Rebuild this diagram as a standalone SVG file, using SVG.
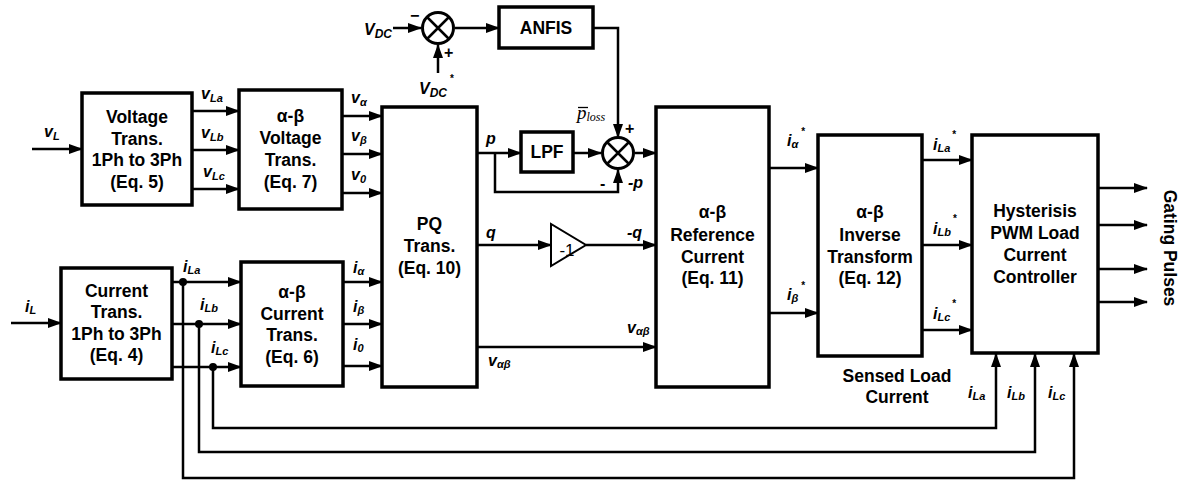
<svg xmlns="http://www.w3.org/2000/svg" width="1184" height="484" viewBox="0 0 1184 484">
<style>
.box{fill:#fff;stroke:#000;stroke-width:3.5}
.t{font-family:"Liberation Sans",Arial,sans-serif;font-weight:bold;font-size:17.5px;text-anchor:middle;fill:#000}
.w{fill:none;stroke:#000;stroke-width:2.5}
.a{marker-end:url(#arr)}
.l{font-family:"Liberation Sans",Arial,sans-serif;font-weight:bold;font-style:italic;font-size:16px;fill:#000}
.s{font-size:11px}
.st{font-size:10px;font-style:normal}
.sum{fill:#fff;stroke:#000;stroke-width:3}
.sg{font-family:"Liberation Sans",Arial,sans-serif;font-weight:bold;font-size:16px;fill:#000}
</style>
<defs>
<marker id="arr" markerUnits="userSpaceOnUse" markerWidth="14" markerHeight="10" viewBox="0 0 14 10" refX="13" refY="5" orient="auto">
<path d="M0,0 L14,5 L0,10 z" fill="#000"/>
</marker>
</defs>
<rect width="1184" height="484" fill="#fff"/>

<g id="connectors">
<path class="w a" d="M32,149 H82"/>
<path class="w a" d="M192,111 H239"/>
<path class="w a" d="M192,150 H239"/>
<path class="w a" d="M192,189 H239"/>
<path class="w a" d="M342,116 H382"/>
<path class="w a" d="M342,154 H382"/>
<path class="w a" d="M342,193 H382"/>
<path class="w a" d="M11,323 H61"/>
<path class="w a" d="M172,282 H241"/>
<path class="w a" d="M172,324 H241"/>
<path class="w a" d="M172,367 H241"/>
<path class="w a" d="M343,282 H382"/>
<path class="w a" d="M343,324 H382"/>
<path class="w a" d="M343,366 H382"/>
<path class="w a" d="M393,28 H421"/>
<path class="w a" d="M438,73 V45"/>
<path class="w a" d="M455,28 H499"/>
<path class="w a" d="M593,28 H618 V137"/>
<path class="w a" d="M477,153 H521"/>
<path class="w a" d="M573,153 H601"/>
<path class="w a" d="M495,153 V192 H618 V170"/>
<path class="w a" d="M635,153 H656"/>
<path class="w a" d="M477,245 H551"/>
<path class="w a" d="M586,245 H656"/>
<path class="w a" d="M477,347 H656"/>
<path class="w a" d="M769,168 H818"/>
<path class="w a" d="M769,313 H818"/>
<path class="w a" d="M922,160 H972"/>
<path class="w a" d="M922,245 H972"/>
<path class="w a" d="M922,330 H972"/>
<path class="w a" d="M1098,188 H1147"/>
<path class="w a" d="M1098,225 H1147"/>
<path class="w a" d="M1098,269 H1147"/>
<path class="w a" d="M1098,302 H1147"/>
<path class="w a" d="M213,367 V428 H996 V354"/>
<path class="w a" d="M199,324 V452 H1035 V354"/>
<path class="w a" d="M183,282 V478 H1074 V354"/>
<circle cx="183" cy="282" r="4" fill="#000"/>
<circle cx="199" cy="324" r="4" fill="#000"/>
<circle cx="213" cy="367" r="4" fill="#000"/>

<text class="l" x="44" y="137">v<tspan class="s" dy="3">L</tspan></text>
<text class="l" x="201" y="99">v<tspan class="s" dy="3">La</tspan></text>
<text class="l" x="201" y="138">v<tspan class="s" dy="3">Lb</tspan></text>
<text class="l" x="203" y="177">v<tspan class="s" dy="3">Lc</tspan></text>
<text class="l" x="351" y="103">v<tspan class="s" dy="3">α</tspan></text>
<text class="l" x="351" y="141">v<tspan class="s" dy="3">β</tspan></text>
<text class="l" x="351" y="180">v<tspan class="s" dy="3">0</tspan></text>
<text class="l" x="25" y="312">i<tspan class="s" dy="2">L</tspan></text>
<text class="l" x="183" y="272">i<tspan class="s" dy="2">La</tspan></text>
<text class="l" x="200" y="310">i<tspan class="s" dy="2">Lb</tspan></text>
<text class="l" x="211" y="353">i<tspan class="s" dy="2">Lc</tspan></text>
<text class="l" x="353" y="273">i<tspan class="s" dy="2">α</tspan></text>
<text class="l" x="353" y="312">i<tspan class="s" dy="2">β</tspan></text>
<text class="l" x="353" y="350">i<tspan class="s" dy="2">0</tspan></text>
<text class="l" x="364" y="35" font-size="17">V<tspan font-size="12" dy="3">DC</tspan></text>
<text class="l" x="419" y="94" font-size="17">V<tspan font-size="12" dy="3">DC</tspan><tspan class="st" dx="3" dy="-15">*</tspan></text>
<text class="sg" x="410" y="21" font-size="20">−</text>
<text class="sg" x="444" y="58" font-size="17">+</text>
<text class="l" x="486" y="144" font-size="17">p</text>
<text x="577" y="119" font-family="'Liberation Serif','Times New Roman',serif" font-style="italic" font-size="19">p<tspan font-size="12" dy="2">loss</tspan></text>
<line x1="578" y1="107.5" x2="588" y2="107.5" stroke="#000" stroke-width="1.3"/>
<text class="sg" x="625" y="134" font-size="17">+</text>
<text class="sg" x="600" y="189">-</text>
<text class="l" x="628" y="188" font-size="17">-p</text>
<text class="l" x="486" y="238" font-size="17">q</text>
<text class="l" x="627" y="238" font-size="17">-q</text>
<text class="l" x="627" y="333">v<tspan class="s" dy="2">αβ</tspan></text>
<text class="l" x="488" y="366">v<tspan class="s" dy="2">αβ</tspan></text>
<text class="l" x="787" y="146">i<tspan class="s" dy="2">α</tspan><tspan class="st" dx="3" dy="-13">*</tspan></text>
<text class="l" x="787" y="300">i<tspan class="s" dy="2">β</tspan><tspan class="st" dx="3" dy="-13">*</tspan></text>
<text class="l" x="933" y="150">i<tspan class="s" dy="2">La</tspan><tspan class="st" dx="2" dy="-14">*</tspan></text>
<text class="l" x="933" y="234">i<tspan class="s" dy="2">Lb</tspan><tspan class="st" dx="2" dy="-14">*</tspan></text>
<text class="l" x="933" y="319">i<tspan class="s" dy="2">Lc</tspan><tspan class="st" dx="2" dy="-14">*</tspan></text>
<text class="l" x="968" y="398">i<tspan class="s" dy="2">La</tspan></text>
<text class="l" x="1007" y="398">i<tspan class="s" dy="2">Lb</tspan></text>
<text class="l" x="1048" y="398">i<tspan class="s" dy="2">Lc</tspan></text>
<text class="t" x="897" y="382">Sensed Load</text>
<text class="t" x="897" y="403">Current</text>
<text class="t" transform="translate(1164,248) rotate(90)" x="0" y="0">Gating Pulses</text>
</g>

<g id="volt_trans">
<rect class="box" x="82" y="93" width="110" height="112"/>
<text class="t" x="137" y="123">Voltage</text>
<text class="t" x="137" y="145">Trans.</text>
<text class="t" x="137" y="166">1Ph to 3Ph</text>
<text class="t" x="137" y="188">(Eq. 5)</text>
</g>
<g id="volt_ab">
<rect class="box" x="239" y="90" width="103" height="119"/>
<text class="t" x="290.5" y="122">α-β</text>
<text class="t" x="290.5" y="144">Voltage</text>
<text class="t" x="290.5" y="166">Trans.</text>
<text class="t" x="290.5" y="188">(Eq. 7)</text>
</g>
<g id="curr_trans">
<rect class="box" x="61" y="268" width="111" height="111"/>
<text class="t" x="116.5" y="297">Current</text>
<text class="t" x="116.5" y="318">Trans.</text>
<text class="t" x="116.5" y="340">1Ph to 3Ph</text>
<text class="t" x="116.5" y="361">(Eq. 4)</text>
</g>
<g id="curr_ab">
<rect class="box" x="241" y="262" width="102" height="124"/>
<text class="t" x="292" y="298">α-β</text>
<text class="t" x="292" y="320">Current</text>
<text class="t" x="292" y="341">Trans.</text>
<text class="t" x="292" y="363">(Eq. 6)</text>
</g>
<g id="pq">
<rect class="box" x="382" y="107" width="95" height="280"/>
<text class="t" x="429.5" y="230">PQ</text>
<text class="t" x="429.5" y="252">Trans.</text>
<text class="t" x="429.5" y="274">(Eq. 10)</text>
</g>
<g id="anfis">
<rect class="box" x="499" y="7" width="94" height="41"/>
<text class="t" x="546" y="34">ANFIS</text>
</g>
<g id="sum1">
<circle class="sum" cx="438" cy="28" r="15.5"/>
<path d="M427,17 L449,39 M449,17 L427,39" stroke="#000" stroke-width="2.5"/>
</g>
<g id="lpf">
<rect class="box" x="521" y="132" width="52" height="40"/>
<text class="t" x="547" y="158">LPF</text>
</g>
<g id="sum2">
<circle class="sum" cx="618" cy="153" r="15.5"/>
<path d="M607,142 L629,164 M629,142 L607,164" stroke="#000" stroke-width="2.5"/>
</g>
<g id="gain">
<path d="M551,224 L551,266 L586,245 z" fill="#fff" stroke="#000" stroke-width="2"/>
<text x="567" y="256" font-family="'Liberation Sans',Arial,sans-serif" font-size="17" text-anchor="middle">-1</text>
</g>
<g id="ref">
<rect class="box" x="656" y="107" width="113" height="280"/>
<text class="t" x="712.5" y="218">α-β</text>
<text class="t" x="712.5" y="241">Reference</text>
<text class="t" x="712.5" y="263">Current</text>
<text class="t" x="712.5" y="284">(Eq. 11)</text>
</g>
<g id="inv">
<rect class="box" x="818" y="135" width="104" height="221"/>
<text class="t" x="870" y="218">α-β</text>
<text class="t" x="870" y="241">Inverse</text>
<text class="t" x="870" y="263">Transform</text>
<text class="t" x="870" y="284">(Eq. 12)</text>
</g>
<g id="hyst">
<rect class="box" x="972" y="135" width="126" height="218"/>
<text class="t" x="1035" y="217">Hysterisis</text>
<text class="t" x="1035" y="239">PWM Load</text>
<text class="t" x="1035" y="261">Current</text>
<text class="t" x="1035" y="283">Controller</text>
</g>
</svg>
